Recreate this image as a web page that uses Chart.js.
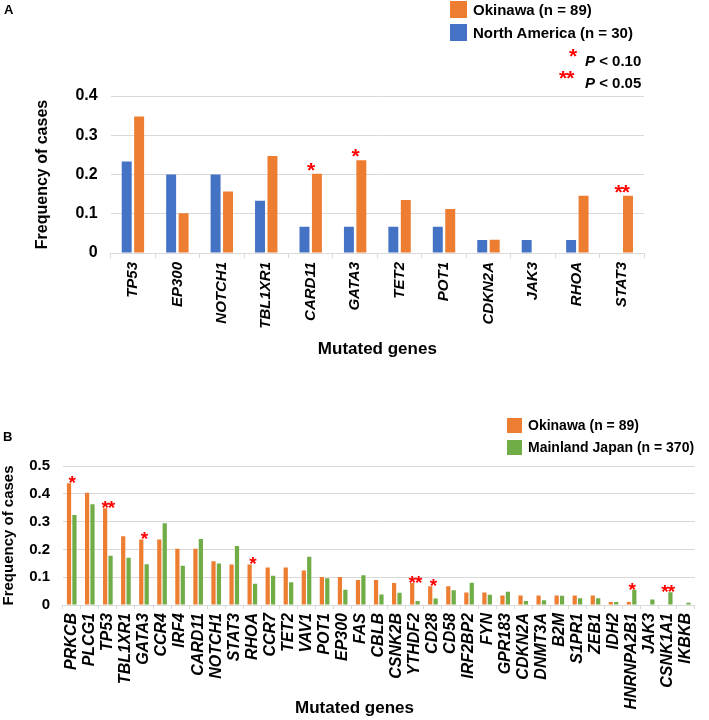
<!DOCTYPE html>
<html><head><meta charset="utf-8">
<script src="https://cdn.jsdelivr.net/npm/chart.js@4.4.1/dist/chart.umd.min.js"></script>
<style>
html,body{margin:0;padding:0;background:#fff;}
#wrap{position:relative;width:709px;height:720px;overflow:hidden;font-family:'Liberation Sans',Arial,sans-serif;color:#000;}
canvas{position:absolute;left:0;}
.t{position:absolute;white-space:nowrap;font-weight:bold;}
.box{position:absolute;}
.red{color:#FF0000;}
</style></head><body>
<div id="wrap">
<canvas id="cA" width="709" height="360" style="top:0;width:709px;height:360px"></canvas>
<canvas id="cB" width="709" height="360" style="top:360px;width:709px;height:360px"></canvas>
<div class="t" style="left:4px;top:3px;font-size:13px;line-height:13px">A</div>
<div class="t" style="left:3px;top:430px;font-size:13px;line-height:13px">B</div>
<div id="legA"></div>
<div id="legB"></div>
<div class="t red" style="left:569px;top:45px;font-size:21px;line-height:22px">*</div>
<div class="t" style="left:585px;top:52px;font-size:15px;line-height:17px"><i>P</i> &lt; 0.10</div>
<div class="t red" style="left:559px;top:67px;font-size:21px;line-height:22px;letter-spacing:-1px">**</div>
<div class="t" style="left:585px;top:74px;font-size:15px;line-height:17px"><i>P</i> &lt; 0.05</div>
<div class="t" id="titleB" style="left:0;width:709px;text-align:center;top:698px;font-size:17px;line-height:20px">Mutated genes</div>
</div>
<script>
// ---------- DATA ----------
const genesA = ['TP53','EP300','NOTCH1','TBL1XR1','CARD11','GATA3','TET2','POT1','CDKN2A','JAK3','RHOA','STAT3'];
const northAmericaA = [0.233,0.200,0.200,0.133,0.067,0.067,0.067,0.067,0.033,0.033,0.033,0];
const okinawaA      = [0.348,0.101,0.157,0.247,0.202,0.236,0.135,0.112,0.034,0,0.146,0.146];
const sigA          = ['','','','','*','*','','','','','','**'];
const yTickLabelsA  = ['0','0.1','0.2','0.3','0.4'];

const genesB = ['PRKCB','PLCG1','TP53','TBL1XR1','GATA3','CCR4','IRF4','CARD11','NOTCH1','STAT3','RHOA','CCR7','TET2','VAV1','POT1','EP300','FAS','CBLB','CSNK2B','YTHDF2','CD28','CD58','IRF2BP2','FYN','GPR183','CDKN2A','DNMT3A','B2M','S1PR1','ZEB1','IDH2','HNRNPA2B1','JAK3','CSNK1A1','IKBKB'];
const okinawaB  = [0.438,0.404,0.348,0.247,0.236,0.236,0.202,0.202,0.157,0.146,0.146,0.135,0.135,0.124,0.101,0.101,0.090,0.090,0.079,0.079,0.067,0.067,0.045,0.045,0.034,0.034,0.034,0.034,0.034,0.034,0.011,0.011,0,0,0];
const mainlandB = [0.324,0.362,0.177,0.170,0.147,0.294,0.141,0.237,0.149,0.212,0.076,0.105,0.082,0.174,0.096,0.055,0.107,0.038,0.044,0.014,0.023,0.053,0.080,0.037,0.048,0.014,0.017,0.033,0.024,0.024,0.011,0.055,0.020,0.046,0.008];
const sigB      = ['*','','**','','*','','','','','','*','','','','','','','','','**','*','','','','','','','','','','','*','','**',''];
const yTickLabelsB = ['0','0.1','0.2','0.3','0.4','0.5'];

const labelOkinawa  = 'Okinawa (n = 89)';
const labelNA       = 'North America (n = 30)';
const labelMainland = 'Mainland Japan (n = 370)';

// ---------- STYLE ----------
const ORANGE = '#ED7D31', BLUE = '#4472C4', GREEN = '#70AD47';
const FONT = "'Liberation Sans', Arial, sans-serif";
const GRID = '#d9d9d9';

function legend(el, items, x, y0, box, gap, fs){
  el.innerHTML = items.map((it,k)=>{
    const top = y0 + k*gap;
    return `<div class="box" style="left:${x}px;top:${top}px;width:${box}px;height:${box}px;background:${it[1]}"></div>`+
           `<div class="t" style="left:${x+box+6}px;top:${top}px;font-size:${fs}px;line-height:${box}px">${it[0]}</div>`;
  }).join('');
}
legend(document.getElementById('legA'), [[labelOkinawa,ORANGE],[labelNA,BLUE]], 450, 1, 17, 23, 15);
legend(document.getElementById('legB'), [[labelOkinawa,ORANGE],[labelMainland,GREEN]], 507, 418, 15, 22, 14);

function sigPlugin(sig, size, dy){
  return {id:'sig', afterDatasetsDraw(chart){
    const {ctx, scales:{x, y}} = chart;
    ctx.save();
    ctx.fillStyle = '#FF0000';
    ctx.font = `bold ${size}px ${FONT}`;
    ctx.textAlign = 'center';
    ctx.textBaseline = 'alphabetic';
    try { ctx.letterSpacing = '-1px'; } catch(e){}
    sig.forEach((s,i)=>{
      if(!s) return;
      const v = Math.max(...chart.data.datasets.map(d=>d.data[i]));
      ctx.fillText(s, x.getPixelForValue(i), y.getPixelForValue(v) + dy);
    });
    ctx.restore();
  }};
}

Chart.defaults.font.family = FONT;
Chart.defaults.color = '#000';

new Chart(document.getElementById('cA'), {
  type: 'bar',
  data: {
    labels: genesA,
    datasets: [
      {label: labelNA, data: northAmericaA, backgroundColor: BLUE},
      {label: labelOkinawa, data: okinawaA, backgroundColor: ORANGE}
    ]
  },
  options: {
    responsive: false, animation: false, devicePixelRatio: 1,
    categoryPercentage: 0.56, barPercentage: 0.8,
    layout: {padding: {top: 96, left: 0, right: 65, bottom: 0}},
    plugins: {legend: {display: false}, tooltip: {enabled: false}},
    scales: {
      y: {
        min: 0, max: 0.4,
        ticks: {stepSize: 0.1, padding: 13, font: {size: 16, weight: 'bold'}, color: '#000',
                callback: (v, i) => yTickLabelsA[i]},
        grid: {color: GRID, drawTicks: false},
        border: {display: false},
        title: {display: true, text: 'Frequency of cases', font: {size: 16, weight: 'bold'}, color: '#000', padding: {top: 33, bottom: 0}},
        afterFit: s => { s.width = 110.7; }
      },
      x: {
        ticks: {autoSkip: false, minRotation: 90, maxRotation: 90, padding: 4, font: {size: 15, weight: 'bold', style: 'italic'}, color: '#000'},
        grid: {display: true, drawOnChartArea: false, color: GRID, tickLength: 5, offset: true},
        border: {color: GRID},
        title: {display: true, text: 'Mutated genes', font: {size: 17, weight: 'bold'}, color: '#000', padding: {top: 0, bottom: 0}},
        afterFit: s => { s.height = 107; }
      }
    }
  },
  plugins: [sigPlugin(sigA, 21, 3)]
});

new Chart(document.getElementById('cB'), {
  type: 'bar',
  data: {
    labels: genesB,
    datasets: [
      {label: labelOkinawa, data: okinawaB, backgroundColor: ORANGE},
      {label: labelMainland, data: mainlandB, backgroundColor: GREEN}
    ]
  },
  options: {
    responsive: false, animation: false, devicePixelRatio: 1,
    categoryPercentage: 0.6, barPercentage: 0.78,
    layout: {padding: {top: 106, left: 0, right: 1, bottom: 0}},
    plugins: {legend: {display: false}, tooltip: {enabled: false}},
    scales: {
      y: {
        min: 0, max: 0.5,
        ticks: {stepSize: 0.1, padding: 12.7, font: {size: 15, weight: 'bold'}, color: '#000',
                callback: (v, i) => yTickLabelsB[i]},
        grid: {color: GRID, drawTicks: false},
        border: {display: false},
        title: {display: true, text: 'Frequency of cases', font: {size: 15, weight: 'bold'}, color: '#000', padding: {top: 0, bottom: 0}},
        afterFit: s => { s.width = 62.7; }
      },
      x: {
        ticks: {autoSkip: false, minRotation: 90, maxRotation: 90, padding: 4, font: {size: 16, weight: 'bold', style: 'italic'}, color: '#000'},
        grid: {display: true, drawOnChartArea: false, color: GRID, tickLength: 4, offset: true},
        border: {color: GRID},
        afterFit: s => { s.height = 115; }
      }
    }
  },
  plugins: [sigPlugin(sigB, 19, 6)]
});
</script>
</body></html>
